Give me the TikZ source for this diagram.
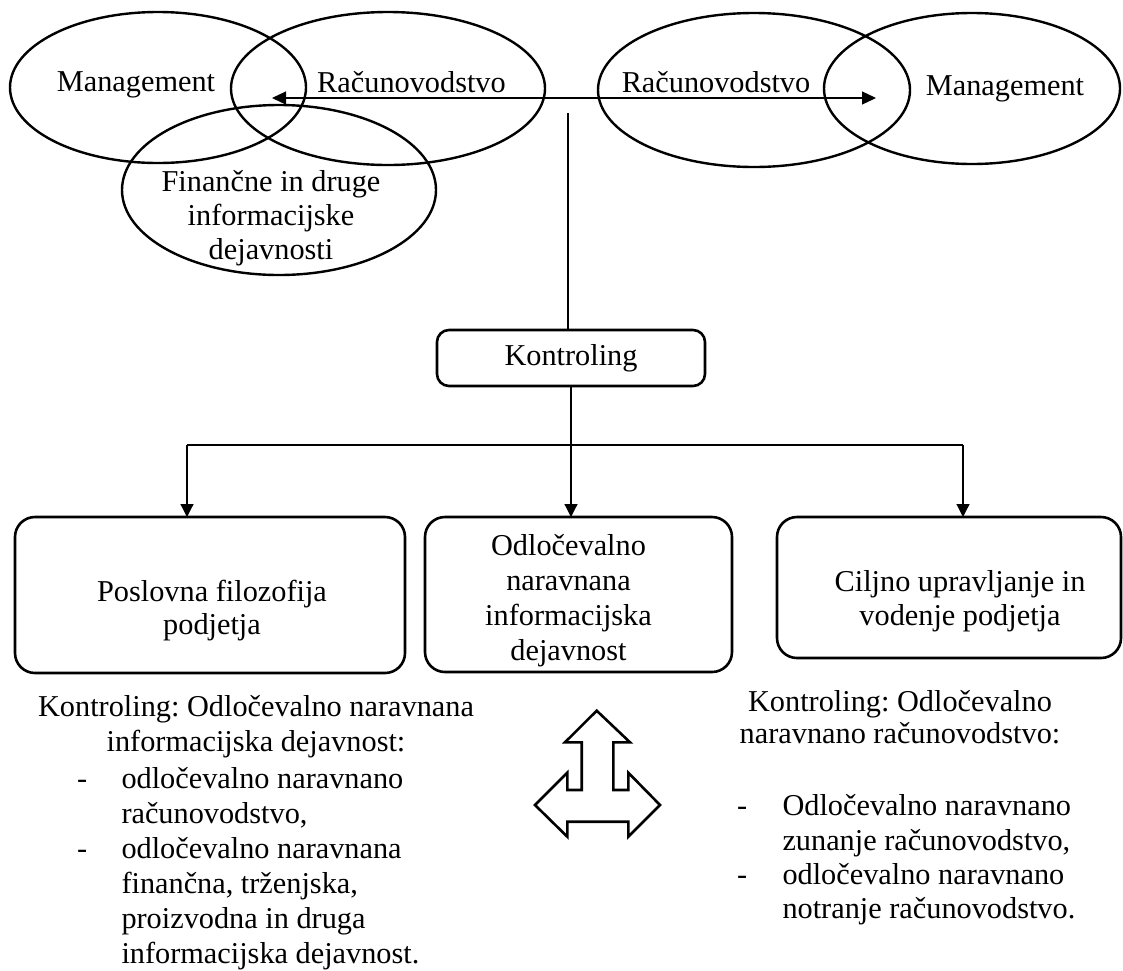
\documentclass[tikz,border=0pt]{standalone}
\usepackage{fontspec}
\setmainfont{Liberation Serif}
\usetikzlibrary{shapes.geometric,arrows.meta}
\frenchspacing
\begin{document}
\begin{tikzpicture}[x=0.5pt,y=-0.5pt,
  txt/.style={inner sep=0pt,outer sep=0pt,font=\fontsize{15.15}{17.5}\selectfont},
  oval/.style={draw,line width=1.2pt,ellipse,inner sep=0pt,outer sep=0pt},
  rbox/.style={draw,line width=1.3pt,rounded corners=10pt,inner sep=0pt,outer sep=0pt},
  conn/.style={line width=0.6pt},
  tip/.style={-{Triangle[width=6.5pt,length=6.5pt]}},
  bigarrow/.style={draw,line width=1.3pt,line join=miter}]
\useasboundingbox (0,0) rectangle (1123,970);

% top ellipses
\node[oval,minimum width=148pt,minimum height=75.5pt] (e1) at (158,87.5) {};
\node[oval,minimum width=157pt,minimum height=76.5pt] (e2) at (388,88.5) {};
\node[oval,minimum width=157pt,minimum height=85pt] (e3) at (279,190) {};
\node[oval,minimum width=156pt,minimum height=77pt] (e4) at (754,90) {};
\node[oval,minimum width=148pt,minimum height=75.5pt] (e5) at (972,88.5) {};

\node[txt,anchor=base] (m1) at (136,91.5) {Management};
\node[txt,anchor=base] (r1) at (411.5,92.5) {Računovodstvo};
\node[txt,align=center,font=\fontsize{15.15}{17}\selectfont] (f1) at (271,218) {Finančne in druge\\informacijske\\dejavnosti};
\node[txt,anchor=base] (r2) at (716,92.5) {Računovodstvo};
\node[txt,anchor=base] (m2) at (1005,95) {Management};

% double arrow
\coordinate (aL) at (272,98);
\coordinate (aR) at (876,98);
\draw[conn,{Triangle[width=6.5pt,length=7pt]}-{Triangle[width=6.5pt,length=7pt]}] (aL) -- (aR);

% Kontroling
\node[rbox,rounded corners=6pt,minimum width=134pt,minimum height=28pt,font=\fontsize{15.15}{17.5}\selectfont] (K) at (571,358) {Kontroling};
\coordinate (vt) at (568,113);
\draw[conn] (vt) -- (vt |- K.north);

% lower boxes
\node[rbox,minimum width=195pt,minimum height=78pt] (B1) at (210,595) {};
\node[txt,align=center,font=\fontsize{15.15}{16.5}\selectfont] (T1) at (212,611) {Poslovna filozofija\\podjetja};
\node[rbox,minimum width=153.5pt,minimum height=77.5pt] (B2) at (578.5,594.5) {};
\node[txt,align=center] (T2) at (568.5,601) {Odločevalno\\naravnana\\informacijska\\dejavnost};
\node[rbox,minimum width=172pt,minimum height=70.5pt] (B3) at (949,587.5) {};
\node[txt,align=center,font=\fontsize{15.15}{17}\selectfont] (T3) at (960,601) {Ciljno upravljanje in\\vodenje podjetja};

\draw[conn,tip] (K.south) -- (K.south |- B2.north);
\coordinate (hl) at (187,445);
\coordinate (hr) at (963,445);
\draw[conn] (hl) -- (hr);
\draw[conn,tip] (hl) -- (hl |- B1.north);
\draw[conn,tip] (hr) -- (hr |- B3.north);

% bottom left text
\node[txt,align=center] (L0) at (256,727) {Kontroling: Odločevalno naravnana\\informacijska dejavnost:};
\node[txt,anchor=base west] (Ld1) at (77,788) {-};
\node[txt,anchor=north west,align=left] (L1) at (121.5,767.3) {odločevalno naravnano\\računovodstvo,};
\node[txt,anchor=base west] (Ld2) at (77,858) {-};
\node[txt,anchor=north west,align=left] (L2) at (121.5,837.3) {odločevalno naravnana\\finančna, trženjska,\\proizvodna in druga\\informacijska dejavnost.};

% bottom right text
\node[txt,align=center,font=\fontsize{15.15}{16}\selectfont] (R0) at (900,716.7) {Kontroling: Odločevalno\\naravnano računovodstvo:};
\node[txt,anchor=base west] (Rd1) at (737,815) {-};
\node[txt,anchor=north west,align=left,font=\fontsize{15.15}{17.2}\selectfont] (R1) at (782.5,794.8) {Odločevalno naravnano\\zunanje računovodstvo,};
\node[txt,anchor=base west] (Rd2) at (737,884) {-};
\node[txt,anchor=north west,align=left,font=\fontsize{15.15}{17.2}\selectfont] (R2) at (782.5,863.3) {odločevalno naravnano\\notranje računovodstvo.};

% three-way arrow
\draw[bigarrow] (596.7,710.7) -- (630,742.3) -- (613.3,742.3) -- (613.3,790) -- (628.3,790) -- (628.3,772.7) -- (660,805) -- (628.3,836.7) -- (628.3,821.7) -- (567.3,821.7) -- (567.3,836.7) -- (535,805) -- (567.3,772.7) -- (567.3,790) -- (581.7,790) -- (581.7,742.3) -- (565,742.3) -- cycle;
\end{tikzpicture}
\end{document}
